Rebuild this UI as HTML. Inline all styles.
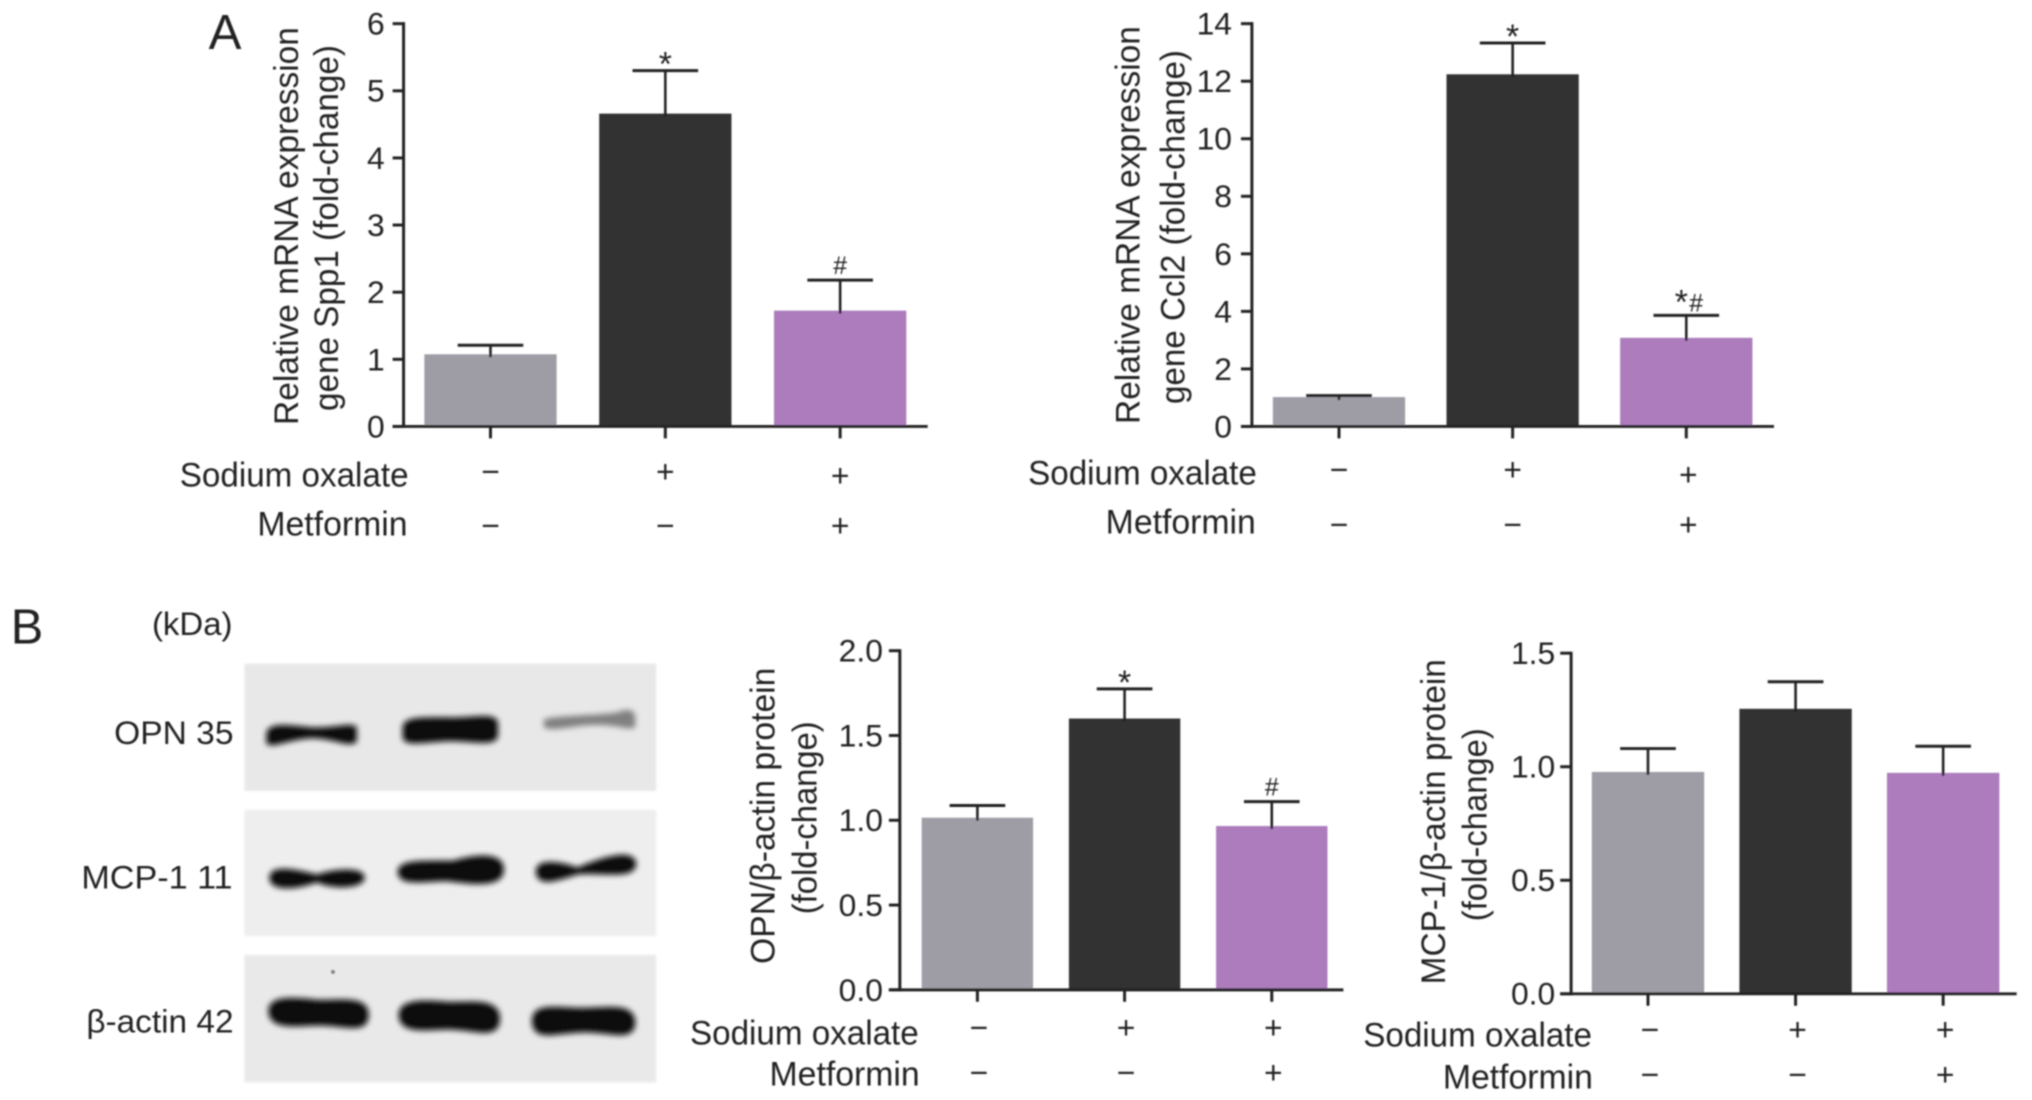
<!DOCTYPE html>
<html lang="en">
<head>
<meta charset="utf-8">
<title>Sodium oxalate and metformin expression figure</title>
<style>
html,body{margin:0;padding:0;background:#fff;width:2032px;height:1100px;overflow:hidden}
svg{display:block}
text{font-family:"Liberation Sans",sans-serif;fill:#222}
</style>
</head>
<body>
<svg id="figure" xmlns="http://www.w3.org/2000/svg" width="2032" height="1100" viewBox="0 0 2032 1100">
  <defs>
    <filter id="soft" x="-2%" y="-2%" width="104%" height="104%"><feGaussianBlur stdDeviation="0.8"/></filter>
    <filter id="bandBlur" x="-20%" y="-60%" width="140%" height="220%"><feGaussianBlur stdDeviation="3"/></filter>
    <filter id="edgeBlur" x="-5%" y="-5%" width="110%" height="110%"><feGaussianBlur stdDeviation="1"/></filter>
  </defs>
  <rect width="2032" height="1100" fill="#ffffff"/>
  <g id="root" filter="url(#soft)" transform="translate(0.8,0.3) scale(0.9945)">
    <text x="209" y="49" font-size="49" fill="#111" textLength="33" lengthAdjust="spacingAndGlyphs">A</text>
    <text x="10" y="647" font-size="49" fill="#111">B</text>
    <text x="152" y="638" font-size="33" textLength="81" lengthAdjust="spacingAndGlyphs">(kDa)</text>

    <g>
      <rect x="245" y="667" width="414" height="128" fill="#e8e8e8" filter="url(#edgeBlur)"/>
      <rect x="245" y="814" width="414" height="127" fill="#eeeeee" filter="url(#edgeBlur)"/>
      <rect x="245" y="960" width="414" height="128" fill="#e9e9e9" filter="url(#edgeBlur)"/>
      <g fill="#0c0c0c" stroke="#0c0c0c" stroke-width="2" filter="url(#bandBlur)">
        <path d="M268 738C268 727 288 729 312 732C335 733 350 727 357 731L357 745C350 751 335 741 312 741C290 742 276 751 268 747Z"/>
        <path d="M405 731C405 720 430 722 455 722C475 722 496 717 499 726L499 740C496 750 475 744 450 744C430 745 405 750 405 741Z"/>
        <path fill="#808080" stroke="none" d="M546 723C560 719 600 719 620 716C632 711 638 714 638 722L638 731C630 735 620 727 590 729C570 731 548 736 546 730Z"/>
        <path d="M271 882C271 870 295 874 318 880C335 874 364 872 365 882C365 892 335 894 318 886C295 894 271 895 271 882Z"/>
        <path d="M400 876C400 864 430 866 455 866C475 860 505 856 505 874C505 892 475 888 450 885C430 884 400 892 400 876Z"/>
        <path d="M539 876C539 864 560 866 580 873C600 864 636 852 638 868C638 884 605 876 580 878C562 884 539 892 539 876Z"/>
        <path d="M270 1016C270 1000 300 1004 320 1006C345 1006 369 1002 369 1020C369 1040 345 1030 320 1030C300 1030 270 1036 270 1016Z"/>
        <path d="M401 1020C401 1004 430 1006 450 1008C475 1008 501 1004 501 1024C501 1046 475 1034 450 1034C430 1034 401 1040 401 1020Z"/>
        <path d="M535 1026C535 1008 560 1014 585 1014C610 1014 637 1008 637 1028C637 1048 610 1036 585 1037C560 1037 535 1048 535 1026Z"/>
      </g>
      <circle cx="334" cy="977" r="2.2" fill="#888"/>
    </g>
    <text x="114" y="748" font-size="33" textLength="120" lengthAdjust="spacingAndGlyphs">OPN 35</text>
    <text x="81" y="893" font-size="33" textLength="152" lengthAdjust="spacingAndGlyphs">MCP-1 11</text>
    <text x="86" y="1038" font-size="33" textLength="148" lengthAdjust="spacingAndGlyphs">β-actin 42</text>
  </g>
</svg>
<script>
// Shared categories and treatment signs
const categories = ['Control', 'Sodium oxalate', 'Sodium oxalate + Metformin'];
const oxalateSigns = ['\u2212', '+', '+'];
const metforminSigns = ['\u2212', '\u2212', '+'];
const barColors = ['#9e9da5', '#333333', '#ac7cbc'];

// Spp1 mRNA
const spp1Values = [1.075, 4.66, 1.725];
const spp1Errors = [1.21, 5.30, 2.18];
const spp1Ticks = ['0', '1', '2', '3', '4', '5', '6'];
const spp1Marks = ['', '*', '#'];

// Ccl2 mRNA
const ccl2Values = [1.02, 12.24, 3.08];
const ccl2Errors = [1.07, 13.33, 3.86];
const ccl2Ticks = ['0', '2', '4', '6', '8', '10', '12', '14'];
const ccl2Marks = ['', '*', '*#'];

// OPN protein
const opnValues = [1.015, 1.60, 0.966];
const opnErrors = [1.087, 1.775, 1.11];
const opnTicks = ['0.0', '0.5', '1.0', '1.5', '2.0'];
const opnMarks = ['', '*', '#'];

// MCP-1 protein
const mcpValues = [0.977, 1.255, 0.973];
const mcpErrors = [1.08, 1.374, 1.09];
const mcpTicks = ['0.0', '0.5', '1.0', '1.5'];
const mcpMarks = ['', '', ''];

const NS = 'http://www.w3.org/2000/svg';
const root = document.getElementById('root');

function make(tag, attrs, parent) {
  const node = document.createElementNS(NS, tag);
  for (const k in attrs) node.setAttribute(k, attrs[k]);
  parent.appendChild(node);
  return node;
}

function addText(parent, content, attrs) {
  const t = make('text', attrs, parent);
  t.textContent = content;
  return t;
}

function drawPanel(p) {
  const g = make('g', {}, root);
  
  

  const maxTick = parseFloat(p.ticks[p.ticks.length - 1]);
  const yScale = v => p.y0 + (p.yTop - p.y0) * (v / maxTick);
  const xScale = i => p.xFirst + i * p.step;
  const ink = '#222222';

  // bars
  p.values.forEach((v, i) => {
    const bar = make('rect', {x: xScale(i) - p.barW / 2, y: yScale(v), width: p.barW, height: p.y0 - yScale(v), fill: barColors[i]}, g);
    
    
  });

  // error bars
  p.errors.forEach((e, i) => {
    const stem = make('line', {x1: xScale(i), x2: xScale(i), y1: yScale(p.values[i]) + 3, y2: yScale(e), stroke: ink, 'stroke-width': 2.6}, g);
    
    
    const cap = make('line', {x1: xScale(i) - p.capW / 2, x2: xScale(i) + p.capW / 2, y1: yScale(e), y2: yScale(e), stroke: ink, 'stroke-width': 3}, g);
    
    
  });

  // significance marks
  p.marks.forEach((m, i) => {
    Array.from(m).forEach(ch => {
      const isHash = ch === '#';
      const pair = m.length > 1;
      const size = isHash ? 25 : 34;
      const dx = pair ? (isHash ? 10 : -5) : 0;
      const lift = isHash ? (pair ? 4 : 6) : (pair ? 2 : -5);
      const mark = addText(g, ch, {x: xScale(i) + dx, y: yScale(p.errors[i]) - lift, 'text-anchor': 'middle', 'font-size': size});
      
      
    });
  });

  // y axis
  const yAxis = make('line', {x1: p.axisX, x2: p.axisX, y1: p.yTop - 1.5, y2: p.y0 + 1.5, stroke: ink, 'stroke-width': 3}, g);
  
  

  p.ticks.forEach(label => {
    const v = parseFloat(label);
    const tick = make('line', {x1: p.axisX - 11, x2: p.axisX, y1: yScale(v), y2: yScale(v), stroke: ink, 'stroke-width': 3}, g);
    
    
    const txt = addText(g, label, {x: p.tickRight, y: yScale(v) + 11, 'text-anchor': 'end', 'font-size': 32});
    
    
  });

  // x axis
  const xAxis = make('line', {x1: p.axisX - 11, x2: p.xEnd, y1: p.y0, y2: p.y0, stroke: ink, 'stroke-width': 3}, g);
  
  

  categories.forEach((c, i) => {
    const tick = make('line', {x1: xScale(i), x2: xScale(i), y1: p.y0, y2: p.y0 + 12, stroke: ink, 'stroke-width': 3}, g);
    
    
    const title = make('title', {}, tick);
    title.textContent = c;
  });

  // treatment rows
  const oxalateLabel = addText(g, 'Sodium oxalate', {x: p.rowRight, y: p.oxBase, 'text-anchor': 'end', 'font-size': 34, textLength: 230, lengthAdjust: 'spacingAndGlyphs'});
  
  
  const metforminLabel = addText(g, 'Metformin', {x: p.rowRight - 1 + p.metDx, y: p.metBase, 'text-anchor': 'end', 'font-size': 34, textLength: 151, lengthAdjust: 'spacingAndGlyphs'});
  
  

  oxalateSigns.forEach((s, i) => {
    const extra = i === 2 ? p.thirdDrop : 0;
    const shift = i === 2 ? p.thirdShift : 0;
    const sign = addText(g, s, {x: xScale(i) + p.signDx + shift, y: p.oxSign + extra + 11, 'text-anchor': 'middle', 'font-size': 32});
    
    
  });
  metforminSigns.forEach((s, i) => {
    const shift = i === 2 ? p.thirdShift : 0;
    const sign = addText(g, s, {x: xScale(i) + p.signDx + shift, y: p.metSign + 11, 'text-anchor': 'middle', 'font-size': 32});
    
    
  });

  // y axis titles
  p.titles.forEach((t, i) => {
    const title = addText(g, t.text, {
      transform: 'translate(' + t.x + ',' + t.yMid + ') rotate(-90)',
      'text-anchor': 'middle', 'font-size': 34,
      textLength: t.len, lengthAdjust: 'spacingAndGlyphs'
    });
    
    
  });
}

drawPanel({name: 'spp1', values: spp1Values, errors: spp1Errors, ticks: spp1Ticks, marks: spp1Marks,
  axisX: 405, xEnd: 932, y0: 428.5, yTop: 23.5, xFirst: 492.4, step: 175.8, barW: 133, capW: 66, tickRight: 386,
  rowRight: 410, oxBase: 489, metBase: 538, oxSign: 474, metSign: 528, thirdDrop: 4, signDx: 0, thirdShift: 0, metDx: 0,
  titles: [{text: 'Relative mRNA expression', x: 299, yMid: 227, len: 400}, {text: 'gene Spp1 (fold-change)', x: 339, yMid: 229, len: 368}]});

drawPanel({name: 'ccl2', values: ccl2Values, errors: ccl2Errors, ticks: ccl2Ticks, marks: ccl2Marks,
  axisX: 1258, xEnd: 1783, y0: 428.5, yTop: 23.5, xFirst: 1345.6, step: 174.6, barW: 133, capW: 66, tickRight: 1238,
  rowRight: 1263, oxBase: 487, metBase: 536, oxSign: 472, metSign: 527, thirdDrop: 5, signDx: 0, thirdShift: 2, metDx: 0,
  titles: [{text: 'Relative mRNA expression', x: 1145, yMid: 226, len: 400}, {text: 'gene Ccl2 (fold-change)', x: 1190, yMid: 228, len: 356}]});

drawPanel({name: 'opn', values: opnValues, errors: opnErrors, ticks: opnTicks, marks: opnMarks,
  axisX: 904, xEnd: 1350, y0: 995, yTop: 654, xFirst: 982, step: 148, barW: 112, capW: 56, tickRight: 887,
  rowRight: 923, oxBase: 1050, metBase: 1091, oxSign: 1033, metSign: 1078, thirdDrop: 0, signDx: 1.5, thirdShift: 0, metDx: 2,
  titles: [{text: 'OPN/β-actin protein', x: 778, yMid: 820, len: 298}, {text: '(fold-change)', x: 820, yMid: 822, len: 194}]});

drawPanel({name: 'mcp1', values: mcpValues, errors: mcpErrors, ticks: mcpTicks, marks: mcpMarks,
  axisX: 1579, xEnd: 2027, y0: 999, yTop: 656.5, xFirst: 1656.3, step: 148.4, barW: 113, capW: 56, tickRight: 1563,
  rowRight: 1600, oxBase: 1052, metBase: 1094, oxSign: 1035, metSign: 1080, thirdDrop: 0, signDx: 2, thirdShift: 0, metDx: 2,
  titles: [{text: 'MCP-1/β-actin protein', x: 1452, yMid: 826, len: 327}, {text: '(fold-change)', x: 1494, yMid: 829, len: 194}]});
</script>
</body>
</html>
